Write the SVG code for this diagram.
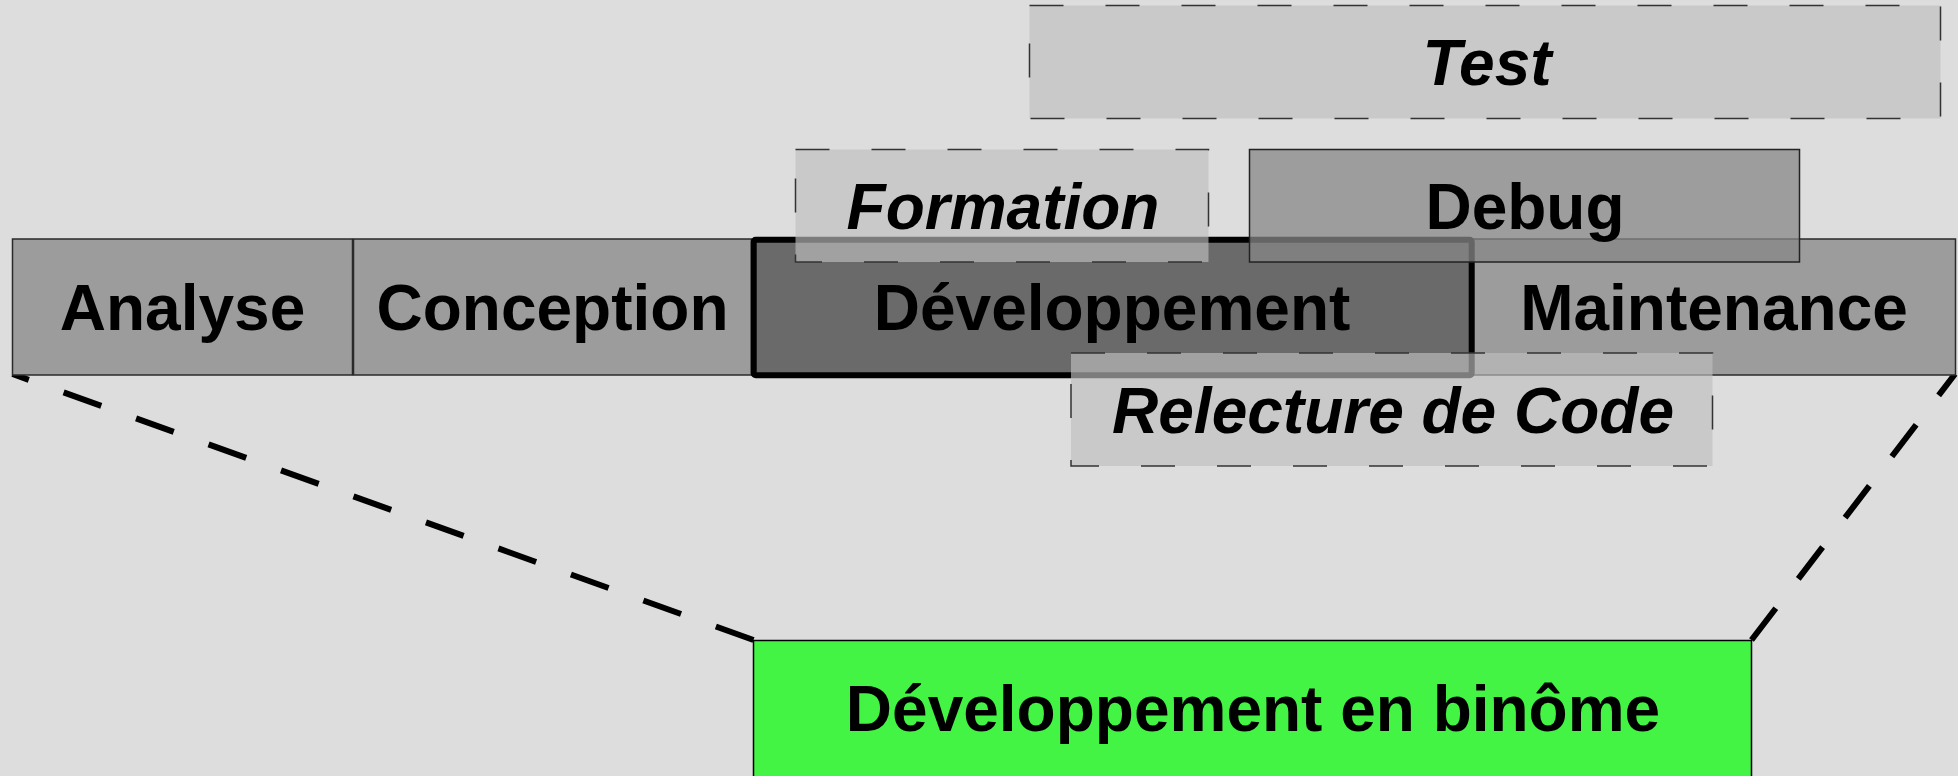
<svg xmlns="http://www.w3.org/2000/svg" width="1958" height="776" viewBox="0 0 1958 776">
<style>
.bar{fill:#9c9c9c;stroke:#2a2a2a;stroke-width:1.5}
.light{fill:#bebebe;fill-opacity:0.65;stroke:#333;stroke-width:1.5;stroke-dasharray:34 42}
.dark{fill:#878787;fill-opacity:0.75;stroke:#222;stroke-width:1.5}
.t{font-family:"Liberation Sans",Arial,sans-serif;font-weight:bold;font-size:64px;fill:#000;text-anchor:middle}
.i{font-style:italic}
.conn{fill:none;stroke:#000;stroke-width:6;stroke-dasharray:40 37}
</style>
<rect x="0" y="0" width="1958" height="776" fill="#dddddd"/>
<g id="connectors">
<line class="conn" x1="753.5" y1="640" x2="12.5" y2="374"/>
<line class="conn" x1="1751.5" y1="640" x2="1955" y2="374"/>
</g>
<g id="analyse">
<rect class="bar" x="12.5" y="239" width="340" height="136"/>
<text class="t" x="182.5" y="330">Analyse</text>
</g>
<g id="conception">
<rect class="bar" x="353.5" y="239" width="398" height="136"/>
<text class="t" x="552.5" y="330">Conception</text>
</g>
<g id="maintenance">
<rect class="bar" x="1471" y="239" width="484.5" height="136"/>
<text class="t" x="1714" y="330">Maintenance</text>
</g>
<g id="developpement">
<rect x="753.7" y="239.7" width="718" height="135.6" rx="2" fill="#6a6a6a" stroke="#000" stroke-width="6"/>
<text class="t" x="1112" y="330">Développement</text>
</g>
<g id="test">
<rect class="light" x="1029.5" y="5.5" width="911" height="113"/>
<text class="t i" x="1487" y="85">Test</text>
</g>
<g id="formation">
<rect class="light" x="795.5" y="149.5" width="413" height="112.5"/>
<text class="t i" x="1003" y="229">Formation</text>
</g>
<g id="debug">
<rect class="dark" x="1249.5" y="149.5" width="550" height="112.5"/>
<text class="t" x="1525" y="229">Debug</text>
</g>
<g id="relecture">
<rect class="light" x="1071" y="353" width="641.5" height="113"/>
<text class="t i" x="1393" y="433">Relecture de Code</text>
</g>
<g id="binome">
<rect x="753.5" y="640.5" width="998" height="140" fill="#44f444" stroke="#000" stroke-width="1.5"/>
<text class="t" x="1253" y="731">Développement en binôme</text>
</g>
</svg>
